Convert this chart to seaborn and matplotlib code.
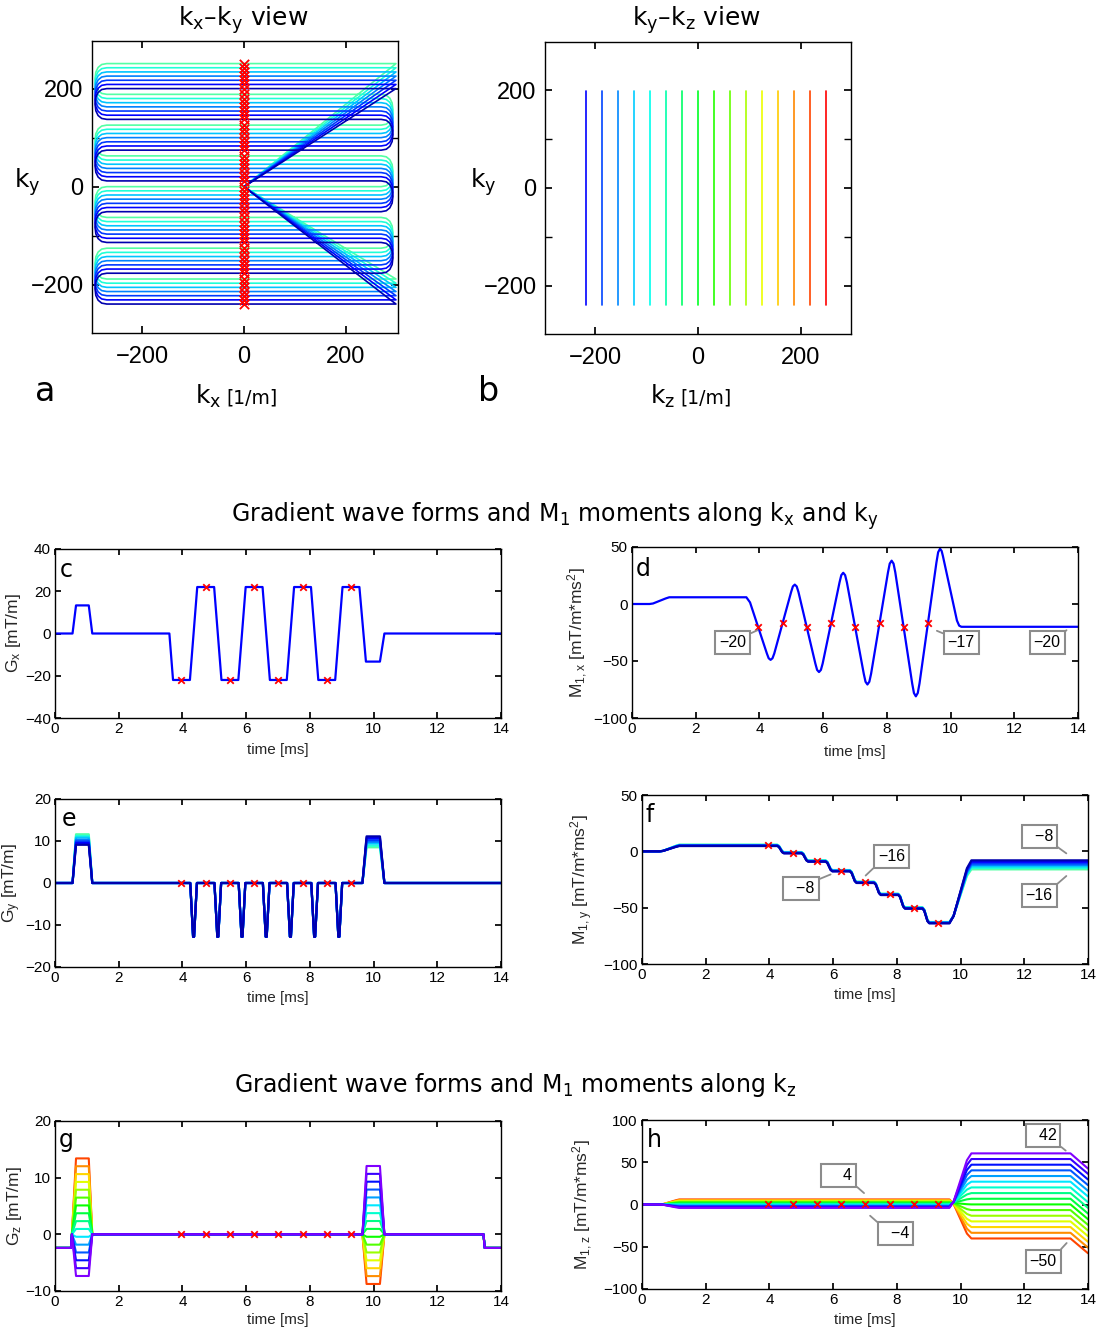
import matplotlib
matplotlib.use("Agg")
import matplotlib.pyplot as plt
import numpy as np
import pandas as pd
import seaborn as sns
from matplotlib.colors import hsv_to_rgb

# ---------------------------------------------------------------- data
# k-space trajectory (panel a): 7 EPI interleaves, 8 echoes each
KY_ECHO = [200.0, 137.3, 74.6, 11.9, -50.8, -113.5, -176.2, -239.0]
KY_SHOT_OFFSET = [0.0, 8.5, 17.0, 25.5, 34.0, 42.5, 51.0]
SHOT_JET = [0.04, 0.11, 0.18, 0.25, 0.32, 0.39, 0.45]
KX_EDGE = 298.0
KX_FLAT = 269.0
TURN_OUT = [0, 10, 17, 21.5, 23, 21.5, 17, 10, 0]
TURN_FRAC = [0, 0.03, 0.125, 0.28, 0.5, 0.72, 0.875, 0.97, 1.0]

# ky-kz view (panel b): 16 kz partitions
KZ_PART = [-217, -186, -155, -124, -93, -62, -31, 0, 31, 62, 93, 124, 155, 186, 217, 248]
KY_SPAN = [-239, 199]

# echo times [ms]
ECHO_T = [3.97, 4.73, 5.49, 6.25, 7.01, 7.77, 8.53, 9.29]

# Gx waveform (panel c)
GX_T = [0, 0.55, 0.66, 1.06, 1.17, 3.59, 3.705, 4.235, 4.465, 4.995, 5.225, 5.755,
        5.985, 6.515, 6.745, 7.275, 7.505, 8.035, 8.265, 8.795, 9.025, 9.555,
        9.76, 10.2, 10.34, 14]
GX_V = [0, 0, 13.3, 13.3, 0, 0, -22, -22, 22, 22, -22, -22,
        22, 22, -22, -22, 22, 22, -22, -22, 22, 22,
        -13.3, -13.3, 0, 0]
GX_ECHO = [-22, 22, -22, 22, -22, 22, -22, 22]

# M1,x (panel d)
M1X_T = [0, 0.55, 0.66, 1.06, 1.17, 3.59, 3.705,
         4.235, 4.29, 4.35, 4.41, 4.465,
         4.995, 5.05, 5.11, 5.17, 5.225,
         5.755, 5.81, 5.87, 5.93, 5.985,
         6.515, 6.57, 6.63, 6.69, 6.745,
         7.275, 7.33, 7.39, 7.45, 7.505,
         8.035, 8.09, 8.15, 8.21, 8.265,
         8.795, 8.85, 8.91, 8.97, 9.025,
         9.555, 9.61, 9.67, 9.72, 9.76, 10.2, 10.27, 10.34, 14]
M1X_V = [0, 0, 0.45, 4.9, 5.9, 5.9, 1.4,
         -43.5, -47.6, -49.0, -47.6, -43.5,
         10.5, 15.4, 17.0, 15.4, 10.5,
         -52.2, -57.8, -59.7, -57.8, -52.2,
         19.0, 25.3, 27.4, 25.3, 19.0,
         -61.2, -68.2, -70.6, -68.2, -61.2,
         27.7, 35.4, 38.0, 35.4, 27.7,
         -69.7, -78.1, -81.0, -78.1, -69.7,
         36.2, 45.4, 48.5, 46.5, 42.0, -14.5, -19.0, -20.0, -20.0]
M1X_ECHO = [-20, -17, -20, -17, -20, -17, -20, -17]

# Gy waveform (panel e)
GY_PRE = [9.1, 9.5, 9.9, 10.3, 10.8, 11.2, 11.6]
GY_REW = [11.1, 10.7, 10.2, 9.8, 9.4, 8.9, 8.5]
BLIP_T = [4.35, 5.11, 5.87, 6.63, 7.39, 8.15, 8.91]
BLIP_AMP = -12.8
BLIP_DT = [-0.105, -0.015, 0.015, 0.105]
BLIP_SHAPE = [0, 1, 1, 0]

# M1,y (panel f)
M1Y_LEVEL = [5.3, -1.2, -8.6, -17.2, -27.5, -38.2, -50.3, -63.3]
M1Y_SHOT_OFFSET = [-0.6, -0.4, -0.2, 0.0, 0.2, 0.4, 0.6]
M1Y_END = [-8.0, -9.3, -10.7, -12.0, -13.3, -14.7, -16.0]
STEP_DT = [-0.105, -0.05, 0, 0.05, 0.105]
STEP_FRAC = [0, 0.15, 0.5, 0.85, 1.0]

# lobe timing shared by prephasers / rewinders [ms]
PRE_T = [0.55, 0.66, 1.06, 1.17]
PRE_FRAC = [0, 0.075, 0.83, 1.0]
REW_T = [9.65, 9.78, 10.2, 10.34]
REW_FRAC = [0, 0.115, 0.875, 1.0]

# Gz waveform (panel g): 16 partition encodes
GZ_PE = [-7.35, -5.97, -4.58, -3.2, -1.82, -0.43, 0.95, 2.33, 3.72, 5.1, 6.48,
         7.87, 9.25, 10.63, 12.02, 13.4]
GZ_REW = [12.06, 10.67, 9.29, 7.9, 6.51, 5.12, 3.74, 2.35, 0.96, -0.43, -1.82,
          -3.2, -4.59, -5.98, -7.37, -8.76]
GZ_BASE = -2.4

# M1,z (panel h)
M1Z_PRE = [-4.0, -3.3, -2.7, -2.0, -1.3, -0.7, 0.0, 0.7, 1.3, 2.0, 2.7, 3.3,
           4.0, 4.7, 5.3, 6.0]
M1Z_POST = [60.5, 53.8, 47.1, 40.4, 33.7, 27.0, 20.2, 13.5, 6.8, 0.1, -6.6,
            -13.3, -20.0, -26.7, -33.5, -40.2]
M1Z_END = [42.5, 36.3, 29.6, 22.9, 16.2, 9.5, 2.7, -4.0, -10.7, -17.4, -24.1,
           -30.8, -37.5, -44.2, -51.0, -57.7]
M1Z_ECHO = 1.0

# ---------------------------------------------------------------- style
sns.set_theme(style="ticks")
plt.rcParams["font.family"] = ["Liberation Sans", "DejaVu Sans"]
plt.rcParams.update({
    "mathtext.default": "regular",
    "axes.linewidth": 1.0,
    "axes.edgecolor": "black",
    "xtick.direction": "in", "ytick.direction": "in",
    "xtick.top": True, "ytick.right": True,
    "xtick.major.size": 4, "ytick.major.size": 4,
    "xtick.minor.size": 4, "ytick.minor.size": 4,
    "xtick.color": "black", "ytick.color": "black",
})

W, H = 1104, 1330
fig = plt.figure(figsize=(W / 100, H / 100), dpi=100)


def frame(left, right, top, bottom):
    return [left / W, 1 - bottom / H, (right - left) / W, (bottom - top) / H]


def ftext(x, y, s, **kw):
    fig.text(x / W, 1 - y / H, s, **kw)


def curves_frame(curves):
    parts = []
    for i, (x, y) in enumerate(curves):
        parts.append(pd.DataFrame({"x": x, "y": y, "line": f"L{i:02d}"}))
    return pd.concat(parts, ignore_index=True)


def draw(ax, curves, colors, lw, order=None):
    df = curves_frame(curves)
    keys = [f"L{i:02d}" for i in range(len(curves))]
    pal = dict(zip(keys, colors))
    hue_order = keys if order is None else [keys[i] for i in order]
    sns.lineplot(data=df, x="x", y="y", hue="line", hue_order=hue_order,
                 palette=pal, sort=False, estimator=None, legend=False,
                 linewidth=lw, ax=ax)


def echo_marks(ax, x, y, s=22):
    sns.scatterplot(x=x, y=y, marker="x", color="red", s=s, linewidth=1.3,
                    ax=ax, zorder=6, legend=False)


jet = plt.get_cmap("jet")
shot_colors = [jet(v) for v in SHOT_JET]
part_colors_b = [hsv_to_rgb((h, 1, 1)) for h in np.linspace(2 / 3, 0, len(KZ_PART))]
part_colors = [hsv_to_rgb((h, 1, 1)) for h in np.linspace(0.75, 0.045, len(GZ_PE))]
shot_order = list(range(len(KY_SHOT_OFFSET)))[::-1]
part_order = list(range(len(GZ_PE)))[::-1]

# ---------------------------------------------------------------- panel a
ax_a = fig.add_axes(frame(92, 398, 41, 333))
traj = []
marks_x, marks_y = [], []
for off in KY_SHOT_OFFSET:
    ky = [v + off for v in KY_ECHO]
    xs, ys = [0.0, KX_EDGE], [0.0, ky[0]]
    for i in range(len(ky) - 1):
        side = -1 if i % 2 == 0 else 1
        for o, f in zip(TURN_OUT, TURN_FRAC):
            xs.append(side * (KX_FLAT + o))
            ys.append(ky[i] + f * (ky[i + 1] - ky[i]))
    xs += [KX_EDGE, 0.0]
    ys += [ky[-1], 0.0]
    traj.append((xs, ys))
    marks_x += [0.0] * len(ky)
    marks_y += ky
draw(ax_a, traj, shot_colors, 1.2, shot_order)
echo_marks(ax_a, marks_x, marks_y, s=45)
ax_a.set_xlim(-298, 302)
ax_a.set_ylim(-298, 297)
ax_a.set_xticks([-200, 0, 200])
ax_a.set_yticks([-200, 0, 200])
ax_a.set_yticks([-100, 100], minor=True)

# ---------------------------------------------------------------- panel b
ax_b = fig.add_axes(frame(545, 851, 42, 334))
draw(ax_b, [([kz, kz], KY_SPAN) for kz in KZ_PART], part_colors_b, 1.2)
ax_b.set_xlim(-297, 297)
ax_b.set_ylim(-299, 299)
ax_b.set_xticks([-200, 0, 200])
ax_b.set_yticks([-200, 0, 200])
ax_b.set_yticks([-100, 100], minor=True)

for ax in (ax_a, ax_b):
    ax.set_xlabel("")
    ax.set_ylabel("")
    ax.tick_params(which="both", labelsize=17, pad=6, length=5)
    ax.tick_params(axis="x", which="both", pad=9)
    ax.tick_params(which="minor", labelleft=False)

# ---------------------------------------------------------------- panel c
ax_c = fig.add_axes(frame(55, 501, 549, 718))
draw(ax_c, [(GX_T, GX_V)], ["blue"], 1.6)
echo_marks(ax_c, ECHO_T, GX_ECHO)
ax_c.set_ylim(-40, 40)
ax_c.set_yticks([-40, -20, 0, 20, 40])

# ---------------------------------------------------------------- panel d
ax_d = fig.add_axes(frame(632, 1078, 547, 718))
draw(ax_d, [(M1X_T, M1X_V)], ["blue"], 1.6)
echo_marks(ax_d, ECHO_T, M1X_ECHO)
ax_d.set_ylim(-100, 50)
ax_d.set_yticks([-100, -50, 0, 50])

# ---------------------------------------------------------------- panel e
ax_e = fig.add_axes(frame(55, 501, 799, 967))
gy_curves = []
for pre, rew in zip(GY_PRE, GY_REW):
    t = [0.0] + PRE_T
    v = [0.0, 0.0, pre, pre, 0.0]
    for c in BLIP_T:
        t += [c + d for d in BLIP_DT]
        v += [BLIP_AMP * s for s in BLIP_SHAPE]
    t += REW_T + [14.0]
    v += [0.0, rew, rew, 0.0, 0.0]
    gy_curves.append((t, v))
draw(ax_e, gy_curves, shot_colors, 1.6, shot_order)
echo_marks(ax_e, ECHO_T, [0] * len(ECHO_T))
ax_e.set_ylim(-20, 20)
ax_e.set_yticks([-20, -10, 0, 10, 20])

# ---------------------------------------------------------------- panel f
ax_f = fig.add_axes(frame(642, 1088, 795, 964))
m1y_curves = []
for off, end in zip(M1Y_SHOT_OFFSET, M1Y_END):
    lv = [x + off for x in M1Y_LEVEL]
    t = [0.0] + PRE_T
    v = [0.0] + [lv[0] * f for f in PRE_FRAC]
    for i, c in enumerate(BLIP_T):
        t += [c + d for d in STEP_DT]
        v += [lv[i] + f * (lv[i + 1] - lv[i]) for f in STEP_FRAC]
    t += REW_T + [14.0]
    v += [lv[-1] + f * (end - lv[-1]) for f in REW_FRAC] + [end]
    m1y_curves.append((t, v))
draw(ax_f, m1y_curves, shot_colors, 1.6, shot_order)
echo_marks(ax_f, ECHO_T, M1Y_LEVEL)
ax_f.set_ylim(-100, 50)
ax_f.set_yticks([-100, -50, 0, 50])

# ---------------------------------------------------------------- panel g
ax_g = fig.add_axes(frame(55, 501, 1121, 1291))
gz_curves = []
for pe, rw in zip(GZ_PE, GZ_REW):
    t = [0.0, 0.5, 0.53, 0.66, 1.06, 1.17] + REW_T + [13.45, 13.49, 14.0]
    v = [GZ_BASE, GZ_BASE, 0.0, pe, pe, 0.0, 0.0, rw, rw, 0.0, 0.0, GZ_BASE, GZ_BASE]
    gz_curves.append((t, v))
draw(ax_g, gz_curves, part_colors, 1.5, part_order)
echo_marks(ax_g, ECHO_T, [0] * len(ECHO_T))
ax_g.set_ylim(-10, 20)
ax_g.set_yticks([-10, 0, 10, 20])

# ---------------------------------------------------------------- panel h
ax_h = fig.add_axes(frame(642, 1088, 1120, 1289))
m1z_curves = []
for pre, post, end in zip(M1Z_PRE, M1Z_POST, M1Z_END):
    t = [0.0, 0.45] + PRE_T[1:] + REW_T + [13.45, 14.0]
    v = ([0.0, 0.0] + [pre * f for f in PRE_FRAC[1:]]
         + [pre + f * (post - pre) for f in REW_FRAC] + [post, end])
    m1z_curves.append((t, v))
draw(ax_h, m1z_curves, part_colors, 1.5, part_order)
echo_marks(ax_h, ECHO_T, [M1Z_ECHO] * len(ECHO_T))
ax_h.set_ylim(-100, 100)
ax_h.set_yticks([-100, -50, 0, 50, 100])

# ---------------------------------------------------------------- waveform axes
ylabels = {
    ax_c: ("G$_x$ [mT/m]", -0.072),
    ax_d: ("M$_{1,x}$ [mT/m*ms$^2$]", -0.095),
    ax_e: ("G$_y$ [mT/m]", -0.072),
    ax_f: ("M$_{1,y}$ [mT/m*ms$^2$]", -0.105),
    ax_g: ("G$_z$ [mT/m]", -0.07),
    ax_h: ("M$_{1,z}$ [mT/m*ms$^2$]", -0.105),
}
xlab_y = {ax_c: -0.145, ax_d: -0.155, ax_e: -0.14, ax_f: -0.14, ax_g: -0.132, ax_h: -0.14}
for ax, (lab, xpos) in ylabels.items():
    ax.set_xlim(0, 14)
    ax.set_xticks(range(0, 15, 2))
    ax.tick_params(labelsize=11, pad=3, length=4)
    ax.set_xlabel("time [ms]", fontsize=11, labelpad=0)
    ax.xaxis.set_label_coords(0.5, xlab_y[ax])
    ax.set_ylabel(lab, fontsize=12.5, labelpad=0)
    ax.yaxis.set_label_coords(xpos, 0.5)

# ---------------------------------------------------------------- datatip boxes
def tip(ax, text, xy, xytext, rel):
    ax.annotate(text, xy=xy, xytext=xytext, textcoords="data", ha="center",
                va="center", fontsize=11.5, color="black", zorder=8,
                bbox=dict(boxstyle="square,pad=0.25", fc="white", ec="#8c8c8c", lw=1.5),
                arrowprops=dict(arrowstyle="-", color="#8c8c8c", lw=1.3,
                                relpos=rel, shrinkA=0, shrinkB=0))


tip(ax_d, "\u221220", (3.94, -23), (3.17, -34), (1, 1))
tip(ax_d, "\u221217", (9.57, -23.5), (10.33, -34), (0, 1))
tip(ax_d, "\u221220", (13.64, -23), (13.03, -34), (1, 1))
tip(ax_f, "\u221216", (7.02, -21.5), (7.83, -4.5), (0, 0))
tip(ax_f, "  \u22128", (5.92, -20.5), (4.99, -33), (1, 1))
tip(ax_f, "  \u22128", (13.32, -1.8), (12.47, 13.4), (1, 0))
tip(ax_f, "\u221216", (13.32, -21.9), (12.47, -39), (1, 1))
tip(ax_h, "    4", (6.97, 13.5), (6.18, 34.5), (1, 0))
tip(ax_h, "  \u22124", (7.16, -13.3), (7.96, -34.5), (0, 1))
tip(ax_h, "  42", (13.3, 63.8), (12.59, 81.5), (1, 0))
tip(ax_h, "\u221250", (13.33, -45.6), (12.59, -67.3), (1, 1))

# ---------------------------------------------------------------- texts
title_font = dict(family="DejaVu Sans", color="black")
ftext(243, 20, "k$_x$\u2013k$_y$ view", ha="center", va="center", fontsize=18, **title_font)
ftext(697, 20, "k$_y$\u2013k$_z$ view", ha="center", va="center", fontsize=18, **title_font)
ftext(195, 404, "k$_x$", ha="left", va="baseline", fontsize=18, **title_font)
ftext(226, 404, "[1/m]", ha="left", va="baseline", fontsize=13.5, **title_font)
ftext(650, 404, "k$_z$", ha="left", va="baseline", fontsize=18, **title_font)
ftext(680, 404, "[1/m]", ha="left", va="baseline", fontsize=13.5, **title_font)
ftext(27, 182, "k$_y$", ha="center", va="center", fontsize=18, **title_font)
ftext(483, 182, "k$_y$", ha="center", va="center", fontsize=18, **title_font)
ftext(45, 401, "a", ha="center", va="baseline", fontsize=24, **title_font)
ftext(489, 401, "b", ha="center", va="baseline", fontsize=24, **title_font)
ftext(555, 516, "Gradient wave forms and M$_1$ moments along k$_x$ and k$_y$",
      ha="center", va="center", fontsize=17, **title_font)
ftext(515, 1085, "Gradient wave forms and M$_1$ moments along k$_z$",
      ha="center", va="center", fontsize=17, **title_font)
for letter, x, y in [("c", 60, 577), ("d", 636, 576), ("e", 62, 826),
                     ("f", 645, 822), ("g", 59, 1147), ("h", 647, 1147)]:
    ftext(x, y, letter, ha="left", va="baseline", fontsize=17, **title_font)

fig.savefig("out.png", dpi=100)
